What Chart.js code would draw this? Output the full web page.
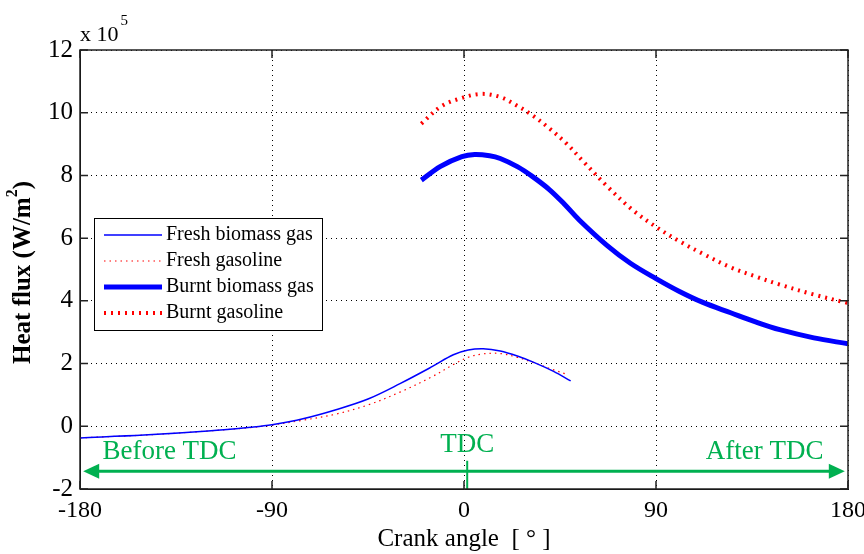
<!DOCTYPE html>
<html>
<head>
<meta charset="utf-8">
<script src="https://cdn.jsdelivr.net/npm/chart.js@4.4.1/dist/chart.umd.min.js"></script>
<style>
  html, body { margin: 0; padding: 0; background: #fff; }
  #wrap { width: 864px; height: 554px; position: relative; }
</style>
</head>
<body>
<div id="wrap"><canvas id="chartCanvas"></canvas></div>
<script>
// values in units of 1e5 W/m2, crank angle in degrees
var freshBioAngle = [-180, -150, -120, -100, -90, -75, -60, -45, -30, -15, -5, 2, 9, 17, 25, 33, 42, 50];
var freshBioFlux  = [-0.37, -0.28, -0.15, -0.03, 0.05, 0.25, 0.53, 0.87, 1.36, 1.9, 2.28, 2.43, 2.47, 2.4, 2.24, 2.03, 1.75, 1.45];

var freshGasAngle = [-180, -150, -120, -100, -90, -75, -60, -45, -30, -15, -5, 2, 9, 17, 25, 33, 42, 48];
var freshGasFlux  = [-0.37, -0.28, -0.15, -0.04, 0.04, 0.2, 0.39, 0.68, 1.09, 1.58, 1.97, 2.2, 2.31, 2.32, 2.2, 2.02, 1.8, 1.66];

var burntBioAngle = [-20, -11, -1, 5, 12, 17, 25, 32, 40, 47, 54, 67, 78, 90, 101, 112, 125, 137, 148, 164, 180];
var burntBioFlux  = [7.85, 8.29, 8.6, 8.67, 8.63, 8.54, 8.28, 7.97, 7.55, 7.09, 6.58, 5.77, 5.2, 4.71, 4.3, 3.95, 3.62, 3.32, 3.08, 2.82, 2.63];

var burntGasAngle = [-20, -11, -2, 8, 17, 25, 32, 40, 48, 56, 67, 79, 90, 101, 112, 125, 137, 148, 164, 180];
var burntGasFlux  = [9.65, 10.19, 10.45, 10.6, 10.5, 10.22, 9.92, 9.5, 9.02, 8.44, 7.66, 6.9, 6.36, 5.9, 5.5, 5.07, 4.77, 4.52, 4.2, 3.93];

var X_TICKS = [-180, -90, 0, 90, 180];
var Y_TICKS = [-2, 0, 2, 4, 6, 8, 10, 12];

var SERIF = "'Liberation Serif', 'Times New Roman', serif";
var GREEN = '#00b050';

function pairs(xs, ys) {
  return xs.map((x, i) => ({ x: x, y: ys[i] }));
}

var datasets = [
  { label: 'Fresh biomass gas', data: pairs(freshBioAngle, freshBioFlux),
    borderColor: '#0000ff', borderWidth: 1.5, borderDash: [] },
  { label: 'Fresh gasoline', data: pairs(freshGasAngle, freshGasFlux),
    borderColor: '#ff0000', borderWidth: 1.2, borderDash: [1.5, 4] },
  { label: 'Burnt biomass gas', data: pairs(burntBioAngle, burntBioFlux),
    borderColor: '#0000ff', borderWidth: 5, borderDash: [] },
  { label: 'Burnt gasoline', data: pairs(burntGasAngle, burntGasFlux),
    borderColor: '#ff0000', borderWidth: 4, borderDash: [2, 5] }
].map(d => Object.assign(d, {
  showLine: true, fill: false, pointRadius: 0, tension: 0.35
}));

// frame, ticks, annotations, legend, exponent and y title
var decorPlugin = {
  id: 'decor',
  afterDatasetsDraw(chart) {
    var ctx = chart.ctx, a = chart.chartArea;
    var xs = chart.scales.x, ys = chart.scales.y;
    ctx.save();

    // green TDC annotations
    ctx.strokeStyle = GREEN; ctx.fillStyle = GREEN;
    var ay = ys.getPixelForValue(-1.43);
    var x1 = xs.getPixelForValue(-178.5), x2 = xs.getPixelForValue(178.5);
    ctx.lineWidth = 3;
    ctx.beginPath(); ctx.moveTo(x1 + 10, ay); ctx.lineTo(x2 - 10, ay); ctx.stroke();
    ctx.beginPath(); ctx.moveTo(x1, ay); ctx.lineTo(x1 + 16, ay - 7.5); ctx.lineTo(x1 + 16, ay + 7.5); ctx.closePath(); ctx.fill();
    ctx.beginPath(); ctx.moveTo(x2, ay); ctx.lineTo(x2 - 16, ay - 7.5); ctx.lineTo(x2 - 16, ay + 7.5); ctx.closePath(); ctx.fill();
    var tx = xs.getPixelForValue(1.5);
    ctx.lineWidth = 2;
    ctx.beginPath(); ctx.moveTo(tx, ys.getPixelForValue(-1.1)); ctx.lineTo(tx, a.bottom); ctx.stroke();
    ctx.font = '27px ' + SERIF;
    ctx.textBaseline = 'middle';
    ctx.textAlign = 'left';
    ctx.fillText('Before TDC', xs.getPixelForValue(-169.5), ys.getPixelForValue(-0.83));
    ctx.textAlign = 'right';
    ctx.fillText('After TDC', xs.getPixelForValue(168.5), ys.getPixelForValue(-0.83));
    ctx.textAlign = 'center';
    ctx.fillText('TDC', tx, ys.getPixelForValue(-0.6));

    // inward tick marks
    ctx.strokeStyle = '#222'; ctx.lineWidth = 1.5;
    ctx.beginPath();
    X_TICKS.forEach(v => {
      var px = xs.getPixelForValue(v);
      ctx.moveTo(px, a.bottom); ctx.lineTo(px, a.bottom - 8);
      ctx.moveTo(px, a.top); ctx.lineTo(px, a.top + 8);
    });
    Y_TICKS.forEach(v => {
      var py = ys.getPixelForValue(v);
      ctx.moveTo(a.left, py); ctx.lineTo(a.left + 8, py);
      ctx.moveTo(a.right, py); ctx.lineTo(a.right - 8, py);
    });
    ctx.stroke();

    // frame
    ctx.strokeStyle = '#222'; ctx.lineWidth = 1.5;
    ctx.strokeRect(a.left, a.top, a.right - a.left, a.bottom - a.top);

    // exponent label
    ctx.fillStyle = '#000';
    ctx.textAlign = 'left'; ctx.textBaseline = 'alphabetic';
    ctx.font = '22px ' + SERIF;
    ctx.fillText('x 10', a.left, a.top - 9);
    var w = ctx.measureText('x 10').width;
    ctx.font = '15px ' + SERIF;
    ctx.fillText('5', a.left + w + 2, a.top - 25);

    // y axis title with superscript
    ctx.save();
    ctx.translate(30, (a.top + a.bottom) / 2 + 3);
    ctx.rotate(-Math.PI / 2);
    var main = 'Heat flux (W/m', sup = '2', tail = ')';
    ctx.font = 'bold 25px ' + SERIF;
    var wm = ctx.measureText(main).width, wt = ctx.measureText(tail).width;
    ctx.font = 'bold 16px ' + SERIF;
    var ws = ctx.measureText(sup).width;
    var sx = -(wm + ws + wt) / 2;
    ctx.textBaseline = 'alphabetic'; ctx.textAlign = 'left';
    ctx.font = 'bold 25px ' + SERIF;
    ctx.fillText(main, sx, 0);
    ctx.fillText(tail, sx + wm + ws, 0);
    ctx.font = 'bold 16px ' + SERIF;
    ctx.fillText(sup, sx + wm, -13);
    ctx.restore();

    // legend box
    var lx = 94, ly = 218, lw = 228, lh = 112;
    ctx.fillStyle = '#fff';
    ctx.fillRect(lx, ly, lw, lh);
    ctx.strokeStyle = '#000'; ctx.lineWidth = 1;
    ctx.strokeRect(lx + 0.5, ly + 0.5, lw, lh);
    ctx.font = '20px ' + SERIF;
    ctx.textBaseline = 'middle';
    ctx.textAlign = 'left';
    chart.data.datasets.forEach((d, i) => {
      var y = ly + 17 + i * 26;
      ctx.strokeStyle = d.borderColor;
      ctx.lineWidth = d.borderWidth;
      ctx.setLineDash(d.borderDash);
      ctx.beginPath(); ctx.moveTo(lx + 10, y); ctx.lineTo(lx + 68, y); ctx.stroke();
      ctx.setLineDash([]);
      ctx.fillStyle = '#000';
      ctx.fillText(d.label, lx + 72, y);
    });
    ctx.restore();
  }
};

new Chart(document.getElementById('chartCanvas'), {
  type: 'scatter',
  data: { datasets: datasets },
  options: {
    responsive: true,
    maintainAspectRatio: false,
    animation: false,
    layout: { padding: { left: 0, right: 16, top: 50, bottom: 0 } },
    plugins: { legend: { display: false }, tooltip: { enabled: false } },
    scales: {
      x: {
        type: 'linear', min: -180, max: 180,
        afterBuildTicks: s => { s.ticks = X_TICKS.map(v => ({ value: v })); },
        afterFit: s => { s.height = 65; s.paddingLeft = 0; s.paddingRight = 0; },
        grid: { color: '#000', lineWidth: 1, drawTicks: false },
        border: { display: true, color: '#000', dash: [1, 4] },
        ticks: { color: '#000', font: { family: SERIF, size: 24 }, padding: 7, maxRotation: 0 },
        title: { display: true, text: 'Crank angle  [ \u00b0 ]', color: '#000',
                 font: { family: SERIF, size: 25 }, padding: { top: 0, bottom: 0 } }
      },
      y: {
        min: -2, max: 12,
        afterBuildTicks: s => { s.ticks = Y_TICKS.map(v => ({ value: v })); },
        afterFit: s => { s.width = 80; },
        grid: { color: '#000', lineWidth: 1, drawTicks: false },
        border: { display: true, color: '#000', dash: [1, 4] },
        ticks: { color: '#000', font: { family: SERIF, size: 25 }, padding: 7 }
      }
    }
  },
  plugins: [decorPlugin]
});
</script>
</body>
</html>
